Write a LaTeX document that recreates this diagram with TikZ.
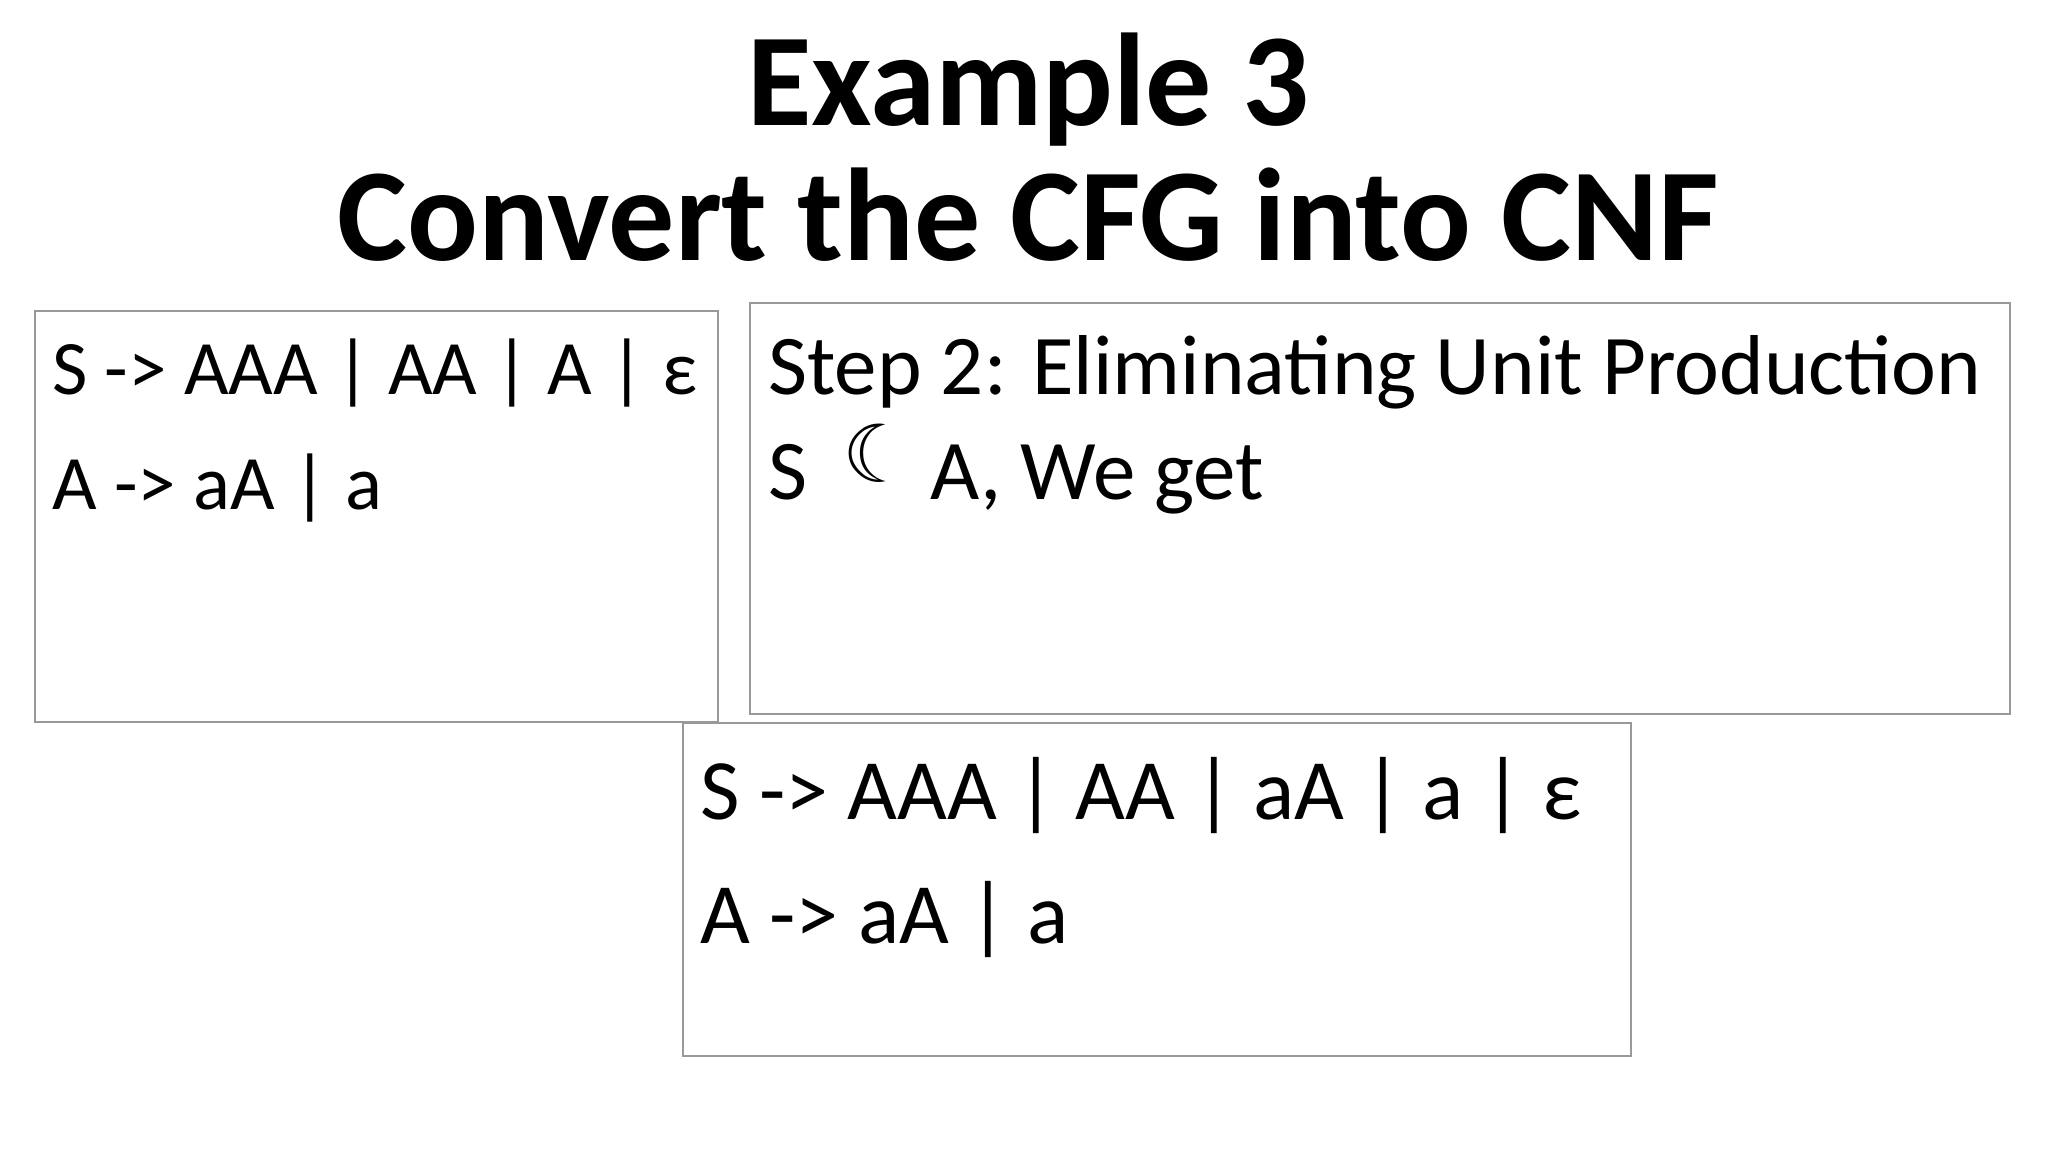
\documentclass[tikz,border=0pt]{standalone}
\usepackage{fontspec}
\setmainfont{Carlito}
\newfontfamily\djv{DejaVu Sans}
\begin{document}
\begin{tikzpicture}[x=1pt,y=-1pt,
  box/.style={draw=black!40,line width=1.2pt},
  txt/.style={anchor=base west,inner sep=0pt,font=\fontsize{77}{90}\selectfont},
  txts/.style={anchor=base west,inner sep=0pt,font=\fontsize{85}{100}\selectfont},
  txtb/.style={anchor=base west,inner sep=0pt,font=\fontsize{86}{100}\selectfont},
  ttl/.style={anchor=base,inner sep=0pt,font=\fontsize{132}{150}\selectfont\bfseries}]
\useasboundingbox (0,0) rectangle (2048,1152);
\node[ttl] (t1) at (1028,125) {Example 3};
\node[ttl] (t2) at (1028,260) {Convert the CFG into CNF};
\draw[box] (35,311) rectangle (718,722);
\draw[box] (750,303) rectangle (2010,714);
\draw[box] (683,723) rectangle (1631,1056);
\node[txt] (a1) at (52,394) {S -> AAA | AA | A | ε};
\node[txt] (a2) at (52,509) {A -> aA | a};
\node[txts] (b1) at (768,394) {Step 2: Eliminating Unit Production};
\node[txts] (b2) at (768,499) {S};
\node[anchor=base west,inner sep=0pt,font=\djv\fontsize{80}{90}\selectfont] (m) at (842,482) {☾};
\node[txts] (b3) at (930,499) {A, We get};
\node[txtb] (c1) at (700,819) {S -> AAA | AA | aA | a | ε};
\node[txtb] (c2) at (700,943) {A -> aA | a};
\end{tikzpicture}
\end{document}
